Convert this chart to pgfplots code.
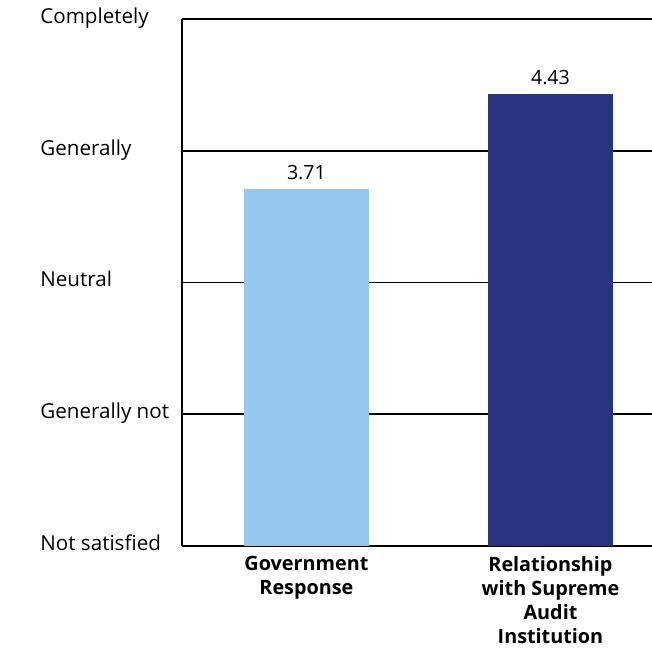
\documentclass[border=0pt]{standalone}
\usepackage{pgfplots}
\pgfplotsset{compat=1.18}
\usepackage{fontspec}
\setmainfont{Open Sans}
\definecolor{lightbar}{RGB}{147,201,236}
\definecolor{darkbar}{RGB}{40,52,128}
\begin{document}
\fontsize{10.3}{12}\selectfont
\begin{tikzpicture}
\begin{axis}[
    name=ax,
    scale only axis,
    width=235pt, height=263.5pt,
    xmin=-0.51, xmax=1.416,
    ymin=1, ymax=5,
    axis line style={draw=none},
    ytick={1,2,3,4,5},
    yticklabels={Not satisfied,Generally not,Neutral,Generally,Completely},
    yticklabel style={anchor=base west, inner sep=0pt, xshift=-71pt, yshift=-2.2pt},
    xtick={0,1},
    xticklabels={{Government\\Response},{Relationship\\with Supreme\\Audit\\Institution}},
    xticklabel style={font=\fontsize{9.9}{12}\selectfont\bfseries, align=center, anchor=north, inner sep=0pt, yshift=-5pt},
    major tick length=0pt,
    ymajorgrids=true,
    grid style={black, line width=0.9pt},
    ybar, bar width=0.51, bar shift=0pt,
    nodes near coords,
    /pgf/number format/fixed,
    /pgf/number format/fixed zerofill,
    /pgf/number format/precision=2,
    /pgf/number format/assume math mode=true,
    every node near coord/.append style={font=\fontsize{9.8}{12}\selectfont, yshift=1pt},
]
\addplot[fill=lightbar, draw=none] coordinates {(0,3.71)};
\addplot[fill=darkbar, draw=none] coordinates {(1,4.43)};
\end{axis}
\draw[line width=0.9pt] (ax.south west) -- (ax.north west);
\pgfresetboundingbox
\path ([shift={(-91pt,-50.5pt)}]ax.south west) rectangle ([shift={(235pt,273pt)}]ax.south west);
\end{tikzpicture}
\end{document}
